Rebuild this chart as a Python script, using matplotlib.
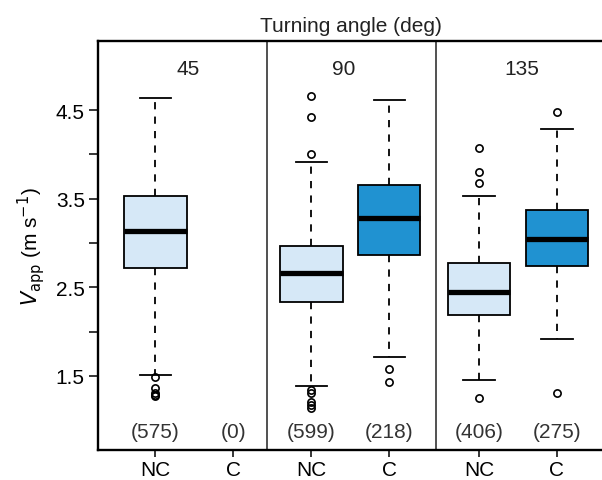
import matplotlib
matplotlib.use("Agg")
import matplotlib.pyplot as plt
from matplotlib.ticker import FixedLocator

plt.rcParams['font.family'] = ['Liberation Sans', 'DejaVu Sans']

# data
angles = ['45', '90', '135']
groups = ['NC', 'C', 'NC', 'C', 'NC', 'C']
counts = [575, 0, 599, 218, 406, 275]
med = [3.14, None, 2.66, 3.28, 2.45, 3.05]
q1 = [2.72, None, 2.33, 2.87, 2.19, 2.74]
q3 = [3.53, None, 2.97, 3.66, 2.77, 3.375]
whislo = [1.51, None, 1.39, 1.72, 1.45, 1.92]
whishi = [4.64, None, 3.92, 4.61, 3.53, 4.29]
fliers = [
    [1.49, 1.37, 1.31, 1.28, 1.27],
    [],
    [4.66, 4.42, 4.0, 1.34, 1.31, 1.21, 1.17, 1.14],
    [1.58, 1.43],
    [4.07, 3.80, 3.68, 1.25],
    [4.48, 1.31],
]

pos = [1, 2, 3, 4, 5.15, 6.15]
light = '#d6e8f7'
dark = '#2092d1'

fig = plt.figure(figsize=(6.02, 4.81), dpi=100)
ax = fig.add_axes([98 / 602, 1 - 451 / 481, 505 / 602, 409 / 481])

stats, spos, cols = [], [], []
for i in range(len(groups)):
    if med[i] is None:
        continue
    stats.append(dict(med=med[i], q1=q1[i], q3=q3[i], whislo=whislo[i],
                      whishi=whishi[i], fliers=fliers[i]))
    spos.append(pos[i])
    cols.append(light if groups[i] == 'NC' else dark)

bp = ax.bxp(stats, positions=spos, widths=0.8, patch_artist=True,
            showfliers=True, manage_ticks=False,
            boxprops=dict(edgecolor='black', linewidth=1.3),
            medianprops=dict(color='black', linewidth=3.8, solid_capstyle='butt'),
            whiskerprops=dict(color='black', linewidth=1.3, linestyle=(0, (4, 4))),
            capprops=dict(color='black', linewidth=1.3),
            flierprops=dict(marker='o', markersize=5.2, markerfacecolor='none',
                            markeredgecolor='black', markeredgewidth=1.2))
for patch, c in zip(bp['boxes'], cols):
    patch.set_facecolor(c)
for cap in bp['caps']:
    x = cap.get_xdata()
    m = (x[0] + x[1]) / 2
    cap.set_xdata([m - 0.2, m + 0.2])

for xv in [2.43, 4.6]:
    ax.axvline(xv, color='#222222', linewidth=1.1)

for x, n in zip(pos, counts):
    ax.text(x, 0.87, f'({n})', ha='center', va='center', fontsize=15, color='#333333')
for x, a in zip([1.42, 3.42, 5.7], angles):
    ax.text(x, 4.97, a, ha='center', va='center', fontsize=15, color='#222222')

ax.set_xlim(0.265, 6.74)
ax.set_ylim(0.665, 5.28)
ax.set_xticks(pos)
ax.set_xticklabels(groups, fontsize=15)
ax.set_yticks([1.5, 2.5, 3.5, 4.5])
ax.set_yticklabels(['1.5', '2.5', '3.5', '4.5'], fontsize=15)
ax.yaxis.set_minor_locator(FixedLocator([2.0, 3.0, 4.0]))
ax.tick_params(axis='y', which='both', direction='out', length=6.5, width=1.1, pad=3)
ax.tick_params(axis='x', direction='out', length=5, width=1.1, pad=2)
for s in ['left', 'top', 'bottom']:
    ax.spines[s].set_linewidth(1.7)
ax.spines['right'].set_visible(False)

ax.set_title('Turning angle (deg)', fontsize=15, pad=7, color='#222222')
ax.set_ylabel(r'$V_{\mathrm{app}}$ (m s$^{-1}$)', fontsize=15, labelpad=6)

fig.savefig('out.png', dpi=100)
